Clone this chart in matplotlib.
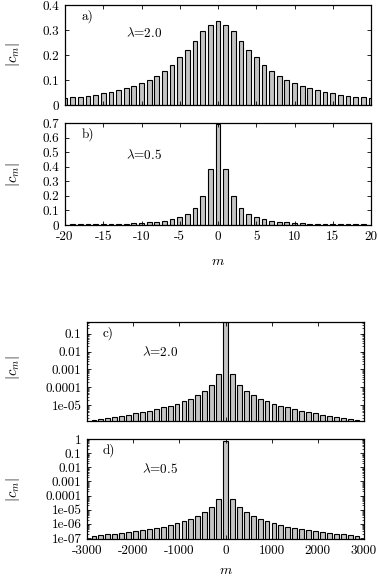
import matplotlib
matplotlib.use('Agg')
import matplotlib.pyplot as plt
import numpy as np
from matplotlib.ticker import FixedLocator, LogLocator, NullFormatter

plt.rcParams['font.family'] = ['cmr10', 'DejaVu Serif']
plt.rcParams['mathtext.fontset'] = 'cm'
plt.rcParams['axes.unicode_minus'] = False

# --- data ---
m_small = np.arange(-20, 21)
# panel a) lambda = 2.0
c_a = [0.028, 0.032, 0.034, 0.038, 0.042, 0.048, 0.053, 0.060, 0.068, 0.077,
       0.087, 0.101, 0.118, 0.138, 0.162, 0.191, 0.222, 0.258, 0.295, 0.322,
       0.335,
       0.322, 0.295, 0.258, 0.222, 0.191, 0.162, 0.138, 0.118, 0.101, 0.087,
       0.077, 0.068, 0.060, 0.053, 0.048, 0.042, 0.038, 0.034, 0.032, 0.028]
# panel b) lambda = 0.5
c_b = [0.003, 0.0035, 0.004, 0.0045, 0.005, 0.006, 0.007, 0.008, 0.010, 0.012,
       0.014, 0.018, 0.021, 0.027, 0.039, 0.052, 0.073, 0.116, 0.200, 0.383,
       0.690,
       0.383, 0.200, 0.116, 0.073, 0.052, 0.039, 0.027, 0.021, 0.018, 0.014,
       0.012, 0.010, 0.008, 0.007, 0.006, 0.005, 0.0045, 0.004, 0.0035, 0.003]

m_large = np.arange(-2850, 2851, 150)
# panel c) lambda = 2.0
c_c = [1.5e-6, 1.74e-6, 1.96e-6, 2.24e-6, 2.5e-6, 3.0e-6, 3.6e-6, 4.2e-6, 5.0e-6, 6.3e-6,
       7.5e-6, 9.2e-6, 1.18e-5, 1.65e-5, 2.3e-5, 3.6e-5, 6.3e-5, 1.4e-4, 5.9e-4,
       0.9,
       5.9e-4, 1.4e-4, 6.3e-5, 3.6e-5, 2.3e-5, 1.65e-5, 1.18e-5, 9.2e-6, 7.5e-6,
       6.3e-6, 5.0e-6, 4.2e-6, 3.6e-6, 3.0e-6, 2.5e-6, 2.24e-6, 1.96e-6, 1.74e-6, 1.5e-6]
# panel d) lambda = 0.5
c_d = [1.4e-7, 1.58e-7, 1.77e-7, 1.96e-7, 2.2e-7, 2.6e-7, 2.9e-7, 3.4e-7, 4.1e-7, 5.0e-7,
       6.3e-7, 8.3e-7, 1.1e-6, 1.5e-6, 2.2e-6, 3.7e-6, 7.2e-6, 1.6e-5, 6.2e-5,
       0.76,
       6.2e-5, 1.6e-5, 7.2e-6, 3.7e-6, 2.2e-6, 1.5e-6, 1.1e-6, 8.3e-7, 6.3e-7,
       5.0e-7, 4.1e-7, 3.4e-7, 2.9e-7, 2.6e-7, 2.2e-7, 1.96e-7, 1.77e-7, 1.58e-7, 1.4e-7]

xt_small = [-20, -15, -10, -5, 0, 5, 10, 15, 20]
xt_small_lbl = ['-20', '-15', '-10', '-5', '0', '5', '10', '15', '20']
xt_large = [-3000, -2000, -1000, 0, 1000, 2000, 3000]
xt_large_lbl = ['-3000', '-2000', '-1000', '0', '1000', '2000', '3000']
yt_a = [0, 0.1, 0.2, 0.3, 0.4]
yt_a_lbl = ['0', '0.1', '0.2', '0.3', '0.4']
yt_b = [0, 0.1, 0.2, 0.3, 0.4, 0.5, 0.6, 0.7]
yt_b_lbl = ['0', '0.1', '0.2', '0.3', '0.4', '0.5', '0.6', '0.7']
yt_c = [1e-5, 1e-4, 1e-3, 1e-2, 1e-1]
yt_c_lbl = ['1e-05', '0.0001', '0.001', '0.01', '0.1']
yt_d = [1e-7, 1e-6, 1e-5, 1e-4, 1e-3, 1e-2, 1e-1, 1]
yt_d_lbl = ['1e-07', '1e-06', '1e-05', '0.0001', '0.001', '0.01', '0.1', '1']

W, H = 378, 576
fig = plt.figure(figsize=(W / 100, H / 100), dpi=100)


def box(l, t, r, b):
    return [l / W, 1 - b / H, (r - l) / W, (b - t) / H]


ax_a = fig.add_axes(box(65, 5, 371, 105))
ax_b = fig.add_axes(box(65, 123, 371, 225))
ax_c = fig.add_axes(box(87, 322, 364, 421))
ax_d = fig.add_axes(box(87, 439, 364, 539))

bar_kw = dict(color='#c4c4c4', edgecolor='black', linewidth=0.8)
fs = 9.5

ax_a.bar(m_small, c_a, width=0.62, **bar_kw)
ax_b.bar(m_small, c_b, width=0.62, **bar_kw)
ax_c.bar(m_large, c_c, width=105, bottom=1e-9, **bar_kw)
ax_d.bar(m_large, c_d, width=105, bottom=1e-9, **bar_kw)

for ax in (ax_a, ax_b):
    ax.set_xlim(-20, 20)
    ax.set_xticks(xt_small)
ax_a.set_ylim(0, 0.4)
ax_a.set_yticks(yt_a)
ax_a.set_yticklabels(yt_a_lbl)
ax_a.set_xticklabels([])
ax_b.set_ylim(0, 0.7)
ax_b.set_yticks(yt_b)
ax_b.set_yticklabels(yt_b_lbl)
ax_b.set_xticklabels(xt_small_lbl)

for ax in (ax_c, ax_d):
    ax.set_yscale('log')
    ax.set_xlim(-3000, 3000)
    ax.set_xticks(xt_large)
    ax.yaxis.set_minor_locator(LogLocator(base=10, subs=np.arange(2, 10), numticks=20))
    ax.yaxis.set_minor_formatter(NullFormatter())
ax_c.set_ylim(1.3e-6, 0.45)
ax_c.yaxis.set_major_locator(FixedLocator(yt_c))
ax_c.set_yticklabels(yt_c_lbl)
ax_c.set_xticklabels([])
ax_d.set_ylim(0.85e-7, 1.0)
ax_d.yaxis.set_major_locator(FixedLocator(yt_d))
ax_d.set_yticklabels(yt_d_lbl)
ax_d.set_xticklabels(xt_large_lbl)

for ax in (ax_a, ax_b, ax_c, ax_d):
    ax.tick_params(which='both', direction='in', top=True, right=True, labelsize=fs, pad=4)
    ax.tick_params(which='major', length=3, width=0.6)
    ax.tick_params(which='minor', length=1.5, width=0.5)
    for s in ax.spines.values():
        s.set_linewidth(0.9)

labels = [(ax_a, 'a)', r'$\lambda$=2.0', 0.72), (ax_b, 'b)', r'$\lambda$=0.5', 0.69),
          (ax_c, 'c)', r'$\lambda$=2.0', 0.70), (ax_d, 'd)', r'$\lambda$=0.5', 0.70)]
for ax, tag, lam, ly in labels:
    ax.text(0.055, 0.89, tag, transform=ax.transAxes, fontsize=fs, va='center')
    ax.text(0.2, ly, lam, transform=ax.transAxes, fontsize=fs, va='center')

for ax, ypix in ((ax_a, 55), (ax_b, 175), (ax_c, 368), (ax_d, 490)):
    fig.text(13 / W, 1 - ypix / H, r'$|c_m|$', rotation=90, fontsize=10.5,
             ha='center', va='center')

fig.text(218 / W, 1 - 262 / H, r'$m$', fontsize=10, ha='center', va='center')
fig.text(226 / W, 1 - 571 / H, r'$m$', fontsize=10, ha='center', va='center')

fig.savefig('out.png', dpi=100)
